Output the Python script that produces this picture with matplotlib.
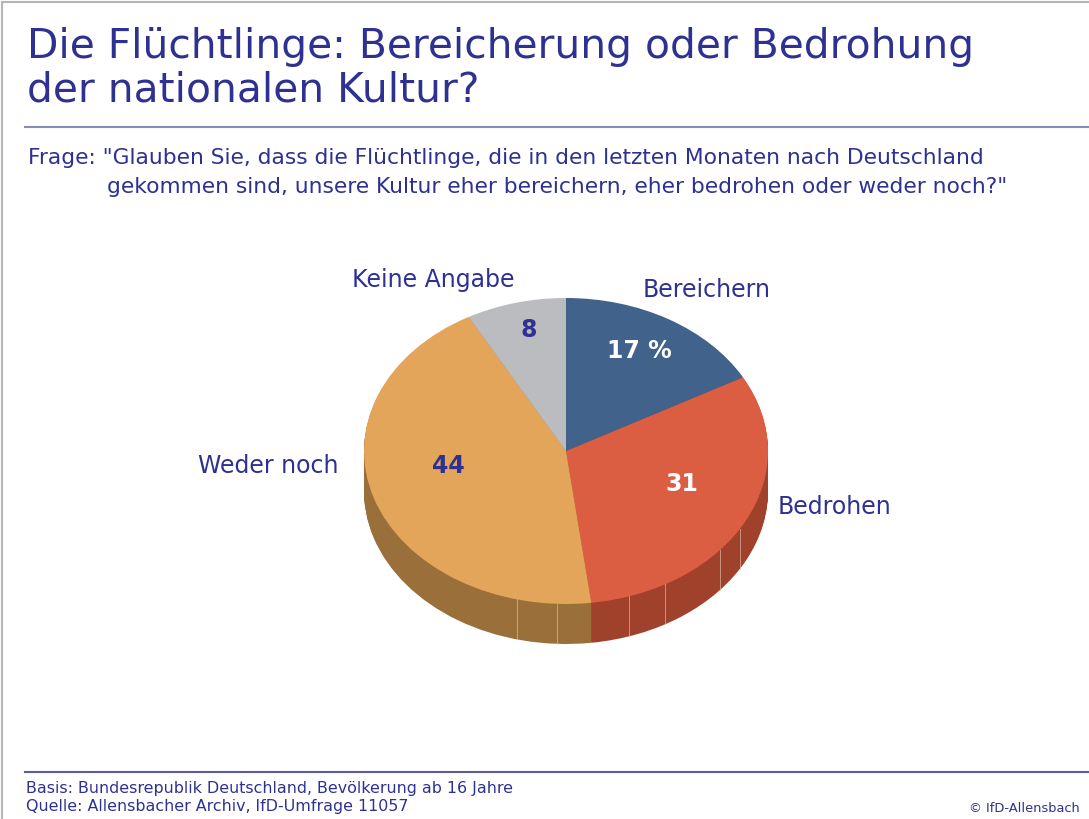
import matplotlib
matplotlib.use('Agg')
import matplotlib.pyplot as plt
import numpy as np

plt.rcParams['font.family'] = ['DejaVu Sans']

# Daten
labels = ['Bereichern', 'Bedrohen', 'Weder noch', 'Keine Angabe']
values = [17, 31, 44, 8]
value_texts = ['17 %', '31', '44', '8']
top_colors = ['#41628a', '#dc5e42', '#e3a55a', '#bbbcc0']
side_colors = ['#2f4866', '#a0412c', '#9a6f3a', '#8a8b8e']
value_colors = ['white', 'white', '#2e3192', '#2e3192']

title = 'Die Flüchtlinge: Bereicherung oder Bedrohung\nder nationalen Kultur?'
frage1 = 'Frage: "Glauben Sie, dass die Flüchtlinge, die in den letzten Monaten nach Deutschland'
frage2 = 'gekommen sind, unsere Kultur eher bereichern, eher bedrohen oder weder noch?"'
basis = 'Basis: Bundesrepublik Deutschland, Bevölkerung ab 16 Jahre'
quelle = 'Quelle: Allensbacher Archiv, IfD-Umfrage 11057'
copy = '© IfD-Allensbach'

blue = '#2e3192'
W, H = 1089, 819
fig = plt.figure(figsize=(W / 100, H / 100), dpi=100)

# Rahmen und Text in Pixelkoordinaten
bg = fig.add_axes([0, 0, 1, 1])
bg.set_xlim(0, W)
bg.set_ylim(H, 0)
bg.axis('off')
bg.plot([2, 2], [2, H], color='#b5b5b5', lw=1.5)
bg.plot([2, W], [2, 2], color='#b5b5b5', lw=1.5)
bg.plot([25, W], [127, 127], color='#8a8ab8', lw=1.5)
bg.plot([25, W], [772, 772], color='#5a5aa5', lw=1.5)

bg.text(27, 27, title, color=blue, fontsize=29.3, va='top', ha='left', linespacing=1.1)
bg.text(28, 158, frage1, color=blue, fontsize=15.7, va='center', ha='left')
bg.text(107, 187, frage2, color=blue, fontsize=15.7, va='center', ha='left')
bg.text(26, 788, basis, color=blue, fontsize=11.4, va='center', ha='left')
bg.text(26, 807, quelle, color=blue, fontsize=11.4, va='center', ha='left')
bg.text(1080, 808, copy, color=blue, fontsize=9.4, va='center', ha='right')

# Torte: 1 Einheit = rx Pixel horizontal, ry Pixel vertikal
cx, cy = 566, 451
rx, ry = 202, 153
depth = 40
ax = fig.add_axes([0, 0, 1, 1])
ax.patch.set_visible(False)
for d in np.linspace(depth, 0, 41)[:-1]:
    ax.pie(values, colors=side_colors, startangle=90, counterclock=False,
           radius=1, center=(0, -d / ry), wedgeprops=dict(linewidth=0))
# feine Facettenlinien an der Seitenwand
for a in [-104, -92.6, -71.8, -60.7, -40.4, -30.5]:
    t = np.radians(a)
    ax.plot([np.cos(t), np.cos(t)], [np.sin(t), np.sin(t) - depth / ry],
            color='#d9b9a0', lw=0.7, alpha=0.7)
ax.pie(values, colors=top_colors, startangle=90, counterclock=False,
       radius=1, center=(0, 0), wedgeprops=dict(linewidth=0))
ax.set_aspect('auto')
ax.set_xlim(-cx / rx, (W - cx) / rx)
ax.set_ylim(-(H - cy) / ry, cy / ry)
ax.axis('off')

# Beschriftungen
label_pos = [(707, 290), (835, 507), (268, 466), (433, 280)]
value_pos = [(639, 351), (682, 484), (448, 466), (529, 330)]
for lab, (x, y) in zip(labels, label_pos):
    bg.text(x, y, lab, color=blue, fontsize=17, ha='center', va='center', zorder=5)
for t, c, (x, y) in zip(value_texts, value_colors, value_pos):
    bg.text(x, y, t, color=c, fontsize=17, fontweight='bold', ha='center', va='center', zorder=5)
bg.set_zorder(2)
ax.set_zorder(1)

fig.savefig('out.png', dpi=100)
